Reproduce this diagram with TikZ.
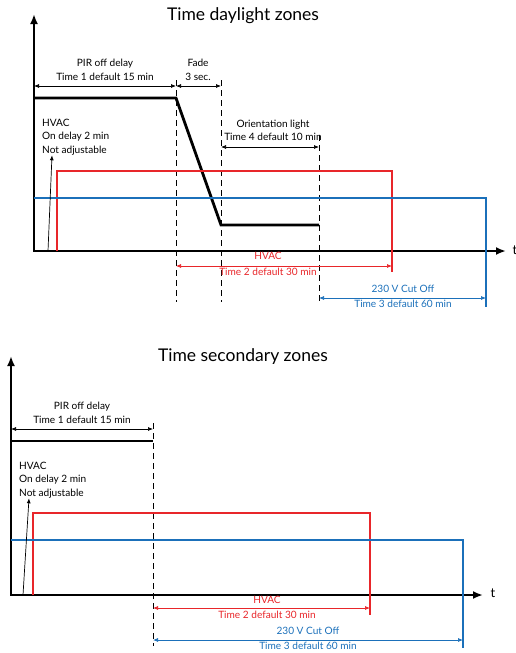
\documentclass[tikz,border=0pt]{standalone}
\usepackage{fontspec}
\setmainfont{Lato}
\usetikzlibrary{arrows.meta}
\definecolor{hvacred}{RGB}{232,38,42}
\definecolor{cutblue}{RGB}{27,112,186}
\begin{document}
\begin{tikzpicture}[x=1pt,y=-1pt,
  axis/.style={line width=2.8pt,{Latex[length=10pt,width=8pt]}-{Latex[length=10pt,width=8pt]}},
  sig/.style={line width=2.8pt,line join=miter},
  dim/.style={line width=0.7pt,{Latex[length=5pt,width=4pt]}-{Latex[length=5pt,width=4pt]}},
  guide/.style={line width=1pt,dash pattern=on 6pt off 4pt},
  pointer/.style={line width=0.7pt,-{Latex[length=5pt,width=4pt]}},
  lbl/.style={font=\fontsize{10.1}{14}\selectfont,inner sep=0pt,anchor=mid},
  multi/.style={font=\fontsize{10.1}{13.5}\selectfont,inner sep=0pt,align=left,anchor=west},
  ttl/.style={font=\fontsize{17.5}{20}\selectfont,inner sep=0pt},
  tlbl/.style={font=\fontsize{13}{15}\selectfont,inner sep=0pt}]
\useasboundingbox (0,0) rectangle (516,653);

% ================= Top diagram =================
\node[ttl] (t1) at (243,16) {Time daylight zones};
\coordinate (aO) at (34,251);
\coordinate (aY) at (34,14);
\coordinate (aX) at (506,251);
\node[tlbl] (aT) at (515,250) {t};
\draw[axis] (aY) -- (aO) -- (aX);

% guides
\coordinate (g1t) at (176,80);  \coordinate (g1b) at (176,302);
\coordinate (g2t) at (221,80);  \coordinate (g2b) at (221,302);
\coordinate (g3t) at (319,135); \coordinate (g3b) at (319,302);
\draw[guide] (g1t) -- (g1b);
\draw[guide] (g2t) -- (g2b);
\draw[guide] (g3t) -- (g3b);

% signals
\coordinate (b0) at (34,98); \coordinate (b1) at (176,98);
\coordinate (b2) at (221,225); \coordinate (b3) at (319,225);
\draw[sig,black] (b0) -- (b1) -- (b2) -- (b3);
\coordinate (r0) at (57,251); \coordinate (r1) at (57,171);
\coordinate (r2) at (392,171); \coordinate (r3) at (392,272);
\draw[sig,hvacred] (r0) -- (r1) -- (r2) -- (r3);
\coordinate (u0) at (34,198); \coordinate (u1) at (486,198);
\coordinate (u2) at (486,307);
\draw[sig,cutblue,line width=2.5pt] (u0) -- (u1) -- (u2);

% dimensions
\coordinate (p0) at (34,86);  \coordinate (p1) at (176,86);
\coordinate (f1) at (221,86);
\draw[dim] (p0) -- (p1);
\draw[dim] (p1) -- (f1);
\node[lbl] (pir1) at (105,64) {PIR off delay};
\node[lbl] (pir2) at (105,78) {Time 1 default 15 min};
\node[lbl] (fd1) at (198,64) {Fade};
\node[lbl] (fd2) at (198,78) {3 sec.};
\coordinate (o0) at (221,147); \coordinate (o1) at (319,147);
\draw[dim] (o0) -- (o1);
\node[lbl] (or1) at (273,125) {Orientation light};
\node[lbl] (or2) at (273,138) {Time 4 default 10 min};
\coordinate (h0) at (176,266); \coordinate (h1) at (392,266);
\draw[dim,hvacred] (h0) -- (h1);
\node[lbl,text=hvacred] (hv1) at (268,257) {HVAC};
\node[lbl,text=hvacred] (hv2) at (268,273) {Time 2 default 30 min};
\coordinate (c0) at (319,298); \coordinate (c1) at (486,298);
\draw[dim,cutblue] (c0) -- (c1);
\node[lbl,text=cutblue] (cv1) at (403,290) {230 V Cut Off};
\node[lbl,text=cutblue] (cv2) at (403,305) {Time 3 default 60 min};

% HVAC on delay
\node[multi] (on1) at (42,137) {HVAC\\On delay 2 min\\Not adjustable};
\coordinate (q0) at (48,251);
\draw[pointer] (q0) -- (on1.south west -| 52,0) ;

% ================= Bottom diagram =================
\node[ttl] (t2) at (243,357) {Time secondary zones};
\coordinate (bO) at (11,595);
\coordinate (bY) at (11,356);
\coordinate (bX) at (483,595);
\node[tlbl] (bT) at (493,593) {t};
\draw[axis] (bY) -- (bO) -- (bX);

\coordinate (s1t) at (153,423); \coordinate (s1b) at (153,646);
\draw[guide] (s1t) -- (s1b);

\coordinate (k0) at (11,441); \coordinate (k1) at (153,441);
\draw[sig,black] (k0) -- (k1);
\coordinate (m0) at (33,595); \coordinate (m1) at (33,513);
\coordinate (m2) at (370,513); \coordinate (m3) at (370,615);
\draw[sig,hvacred] (m0) -- (m1) -- (m2) -- (m3);
\coordinate (n0) at (11,540); \coordinate (n1) at (463,540);
\coordinate (n2) at (463,648);
\draw[sig,cutblue,line width=2.5pt] (n0) -- (n1) -- (n2);

\coordinate (d0) at (11,429); \coordinate (d1) at (153,429);
\draw[dim] (d0) -- (d1);
\node[lbl] (spir1) at (82,407) {PIR off delay};
\node[lbl] (spir2) at (82,421) {Time 1 default 15 min};
\coordinate (e0) at (153,608); \coordinate (e1) at (370,608);
\draw[dim,hvacred] (e0) -- (e1);
\node[lbl,text=hvacred] (shv1) at (267,601) {HVAC};
\node[lbl,text=hvacred] (shv2) at (267,616) {Time 2 default 30 min};
\coordinate (w0) at (153,640); \coordinate (w1) at (463,640);
\draw[dim,cutblue] (w0) -- (w1);
\node[lbl,text=cutblue] (scv1) at (308,632) {230 V Cut Off};
\node[lbl,text=cutblue] (scv2) at (308,647) {Time 3 default 60 min};

\node[multi] (son1) at (19,480) {HVAC\\On delay 2 min\\Not adjustable};
\coordinate (sq0) at (23,595);
\draw[pointer] (sq0) -- (son1.south west -| 29,0);
\end{tikzpicture}
\end{document}
